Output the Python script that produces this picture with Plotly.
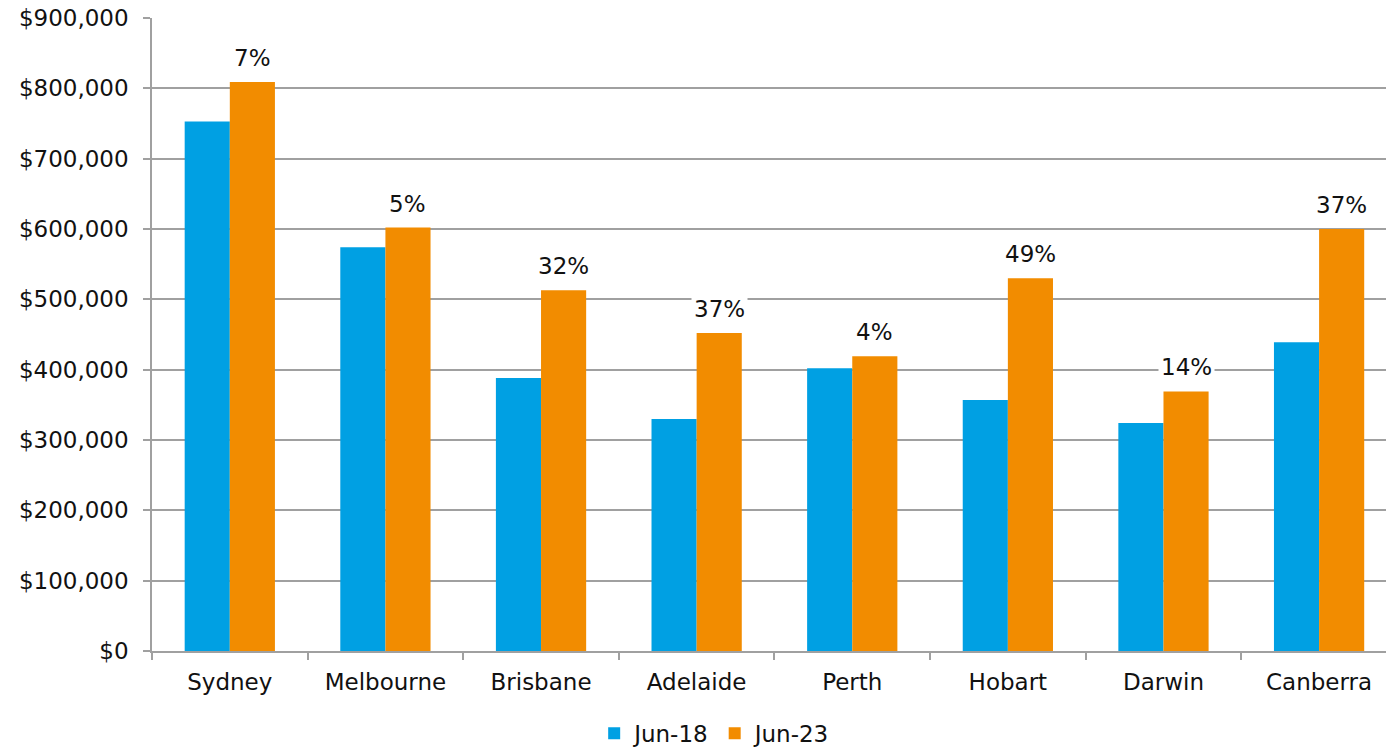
import plotly.graph_objects as go

cities = ["Sydney", "Melbourne", "Brisbane", "Adelaide", "Perth", "Hobart", "Darwin", "Canberra"]
jun18 = [753000, 574000, 388000, 330000, 402000, 357000, 324000, 439000]
jun23 = [809000, 602000, 513000, 452000, 419000, 530000, 369000, 600000]
growth_labels = ["7%", "5%", "32%", "37%", "4%", "49%", "14%", "37%"]
y_ticks = [0, 100000, 200000, 300000, 400000, 500000, 600000, 700000, 800000, 900000]
y_tick_text = ["$0", "$100,000", "$200,000", "$300,000", "$400,000", "$500,000",
               "$600,000", "$700,000", "$800,000", "$900,000"]

FONT = "DejaVu Sans"
FS = 23
fig = go.Figure()
fig.add_trace(go.Bar(x=cities, y=jun18, name="Jun-18", marker=dict(color="#00A0E3", line=dict(width=0))))
fig.add_trace(go.Bar(x=cities, y=jun23, name="Jun-23", marker=dict(color="#F28C00", line=dict(width=0))))

bargap = 0.42
x_range = [-0.5, 7.43]
plot_w = 1386 - 152
cat_w = plot_w / (x_range[1] - x_range[0])
offset_px = (1 - bargap) / 4 * cat_w
for c, v, lab in zip(cities, jun23, growth_labels):
    fig.add_annotation(x=c, y=v, text=lab, showarrow=False, xshift=offset_px,
                       yanchor="bottom", yshift=8, bgcolor="white", borderpad=2,
                       font=dict(family=FONT, size=FS, color="#111"))

fig.update_layout(
    width=1386, height=749,
    margin=dict(l=152, r=0, t=18, b=98),
    paper_bgcolor="white", plot_bgcolor="white",
    barmode="group", bargap=bargap, bargroupgap=0,
    font=dict(family=FONT, size=FS, color="#111"),
    showlegend=True,
    legend=dict(orientation="h", xref="container", x=0.516, xanchor="center",
                yref="container", y=0.021, yanchor="middle",
                font=dict(family=FONT, size=FS, color="#111"), itemwidth=30,
                traceorder="normal"),
)
fig.update_yaxes(range=[0, 900000], tickvals=y_ticks, ticktext=y_tick_text,
                 showgrid=True, gridcolor="#A0A0A0", gridwidth=1.5,
                 showline=True, linecolor="#A0A0A0", linewidth=1.5,
                 ticks="outside", ticklen=7, tickcolor="#A0A0A0", tickwidth=1.5,
                 ticklabelstandoff=10, zeroline=False, tickfont=dict(size=FS))
fig.update_xaxes(range=x_range, showline=True, linecolor="#A0A0A0", linewidth=1.5,
                 ticks="outside", tickson="boundaries", ticklen=7,
                 tickcolor="#A0A0A0", tickwidth=1.5, ticklabelstandoff=10,
                 tickfont=dict(size=FS))

fig.write_html("out.html")
